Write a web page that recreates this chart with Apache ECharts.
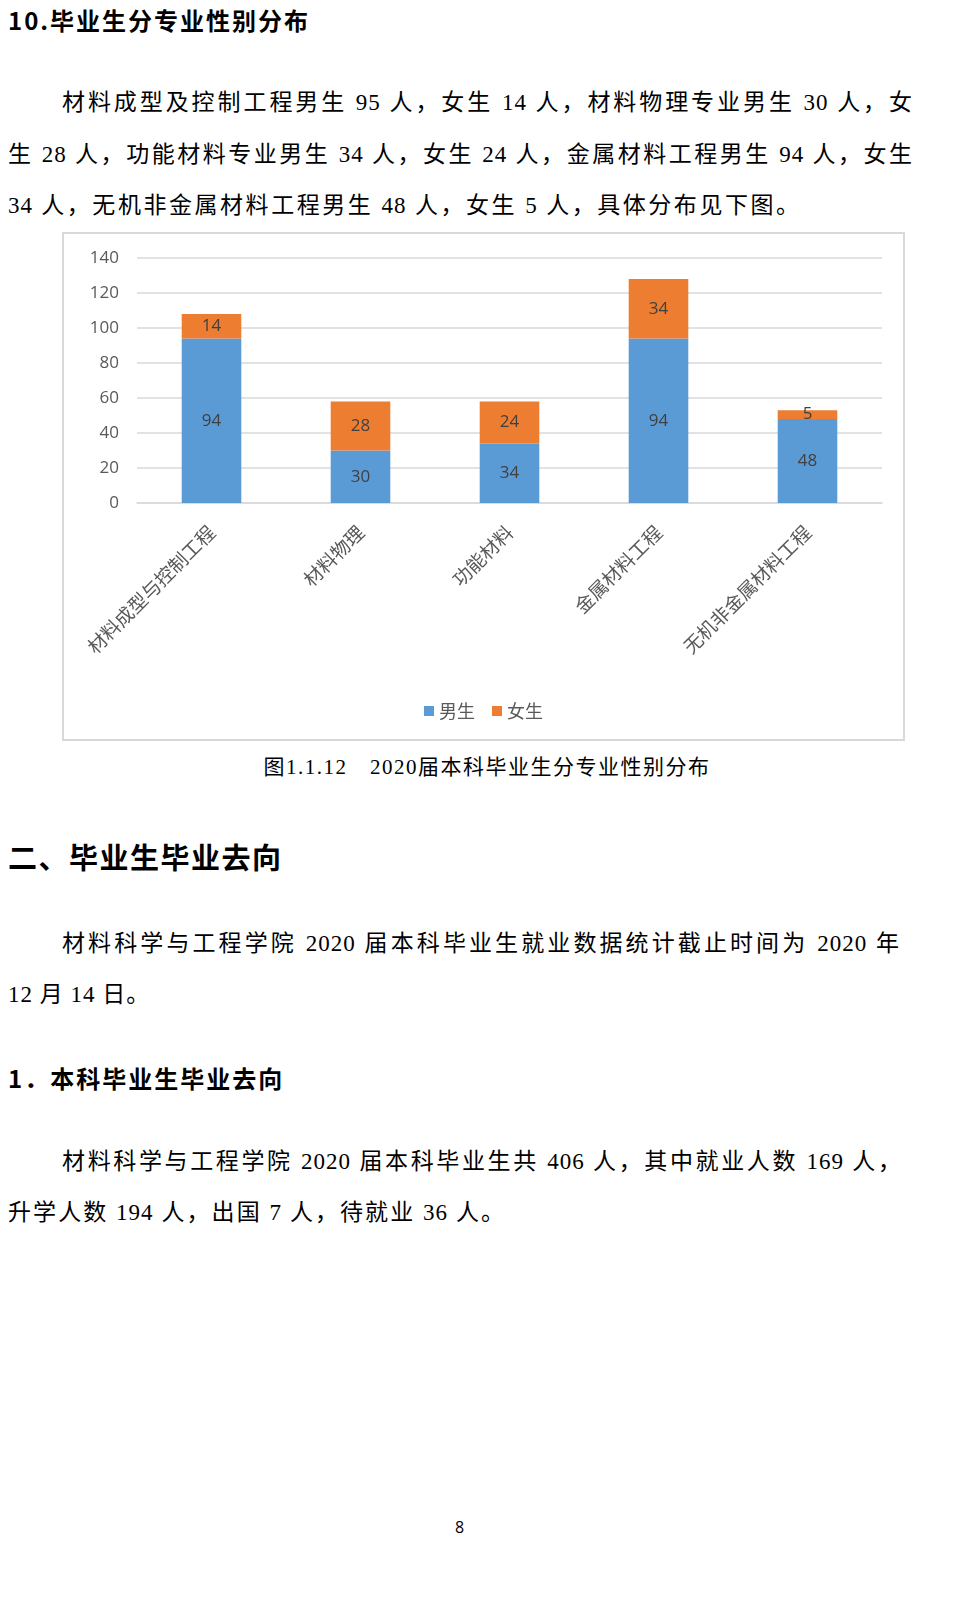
<!DOCTYPE html>
<html>
<head>
<meta charset="utf-8">
<script src="https://cdn.jsdelivr.net/npm/echarts@6/dist/echarts.min.js"></script>
<style>
  body { margin: 0; width: 953px; height: 1600px; background: #fff; position: relative;
         font-family: "Liberation Serif", "Noto Sans CJK SC", serif; color: #000; }
  .t { position: absolute; white-space: nowrap; }
  .h { font-weight: bold; font-family: "Noto Sans CJK SC", sans-serif; }
  .p { font-size: 23px; line-height: 30px; letter-spacing: 1px; }
  .j { text-align: justify; text-align-last: justify; }
  #box { position: absolute; left: 62px; top: 232px; width: 839px; height: 505px;
         border: 2px solid #d9d9d9; }
  #chart { width: 839px; height: 505px; }
</style>
</head>
<body>
<div class="t h" style="left:8px;top:5px;font-size:24px;line-height:30px;letter-spacing:2px;">10.毕业生分专业性别分布</div>

<div class="t p j" style="left:62px;top:88px;width:851px;">材料成型及控制工程男生 95 人，女生 14 人，材料物理专业男生 30 人，女</div>
<div class="t p j" style="left:8px;top:140px;width:905px;">生 28 人，功能材料专业男生 34 人，女生 24 人，金属材料工程男生 94 人，女生</div>
<div class="t p j" style="left:8px;top:191px;width:792px;">34 人，无机非金属材料工程男生 48 人，女生 5 人，具体分布见下图。</div>

<div id="box"><div id="chart"></div></div>

<div class="t" style="left:258px;width:458px;text-align:center;top:754px;font-size:21px;line-height:26px;letter-spacing:1.5px;">图1.1.12　2020届本科毕业生分专业性别分布</div>

<div class="t h" style="left:8px;top:838px;font-size:29px;line-height:36px;letter-spacing:1.5px;">二、毕业生毕业去向</div>

<div class="t p j" style="left:62px;top:929px;width:838px;">材料科学与工程学院 2020 届本科毕业生就业数据统计截止时间为 2020 年</div>
<div class="t p" style="left:8px;top:980px;">12 月 14 日。</div>

<div class="t h" style="left:8px;top:1063px;font-size:24px;line-height:30px;letter-spacing:2px;">1．本科毕业生毕业去向</div>

<div class="t p j" style="left:62px;top:1147px;width:840px;">材料科学与工程学院 2020 届本科毕业生共 406 人，其中就业人数 169 人，</div>
<div class="t p j" style="left:8px;top:1198px;width:497px;">升学人数 194 人，出国 7 人，待就业 36 人。</div>

<div class="t" style="left:455px;top:1516px;font-size:16px;line-height:22px;font-family:'Open Sans',sans-serif;">8</div>

<script>
// 专业分类
var majors = ['材料成型与控制工程', '材料物理', '功能材料', '金属材料工程', '无机非金属材料工程']
// 男生人数
var maleCount = [94, 30, 34, 94, 48]
// 女生人数
var femaleCount = [14, 28, 24, 34, 5]
var seriesNames = ['男生', '女生']
var yTicks = [0, 20, 40, 60, 80, 100, 120, 140]

var chart = echarts.init(document.getElementById('chart'))
var labelStyle = {
  show: true,
  position: 'inside',
  color: '#404040',
  fontSize: 17,
  fontFamily: 'Open Sans'
}
chart.setOption({
  animation: false,
  backgroundColor: '#ffffff',
  color: ['#5b9bd5', '#ed7d31'],
  grid: { left: 73, right: 21, top: 24, bottom: 236, containLabel: false },
  legend: {
    top: 463,
    left: 'center',
    itemWidth: 10,
    itemHeight: 10,
    itemGap: 17,
    icon: 'rect',
    textStyle: { color: '#595959', fontSize: 18, fontFamily: 'Noto Sans CJK SC' },
    data: seriesNames
  },
  xAxis: {
    type: 'category',
    data: majors,
    axisTick: { show: false },
    axisLine: { lineStyle: { color: '#d9d9d9', width: 1.5 } },
    axisLabel: {
      rotate: 45,
      margin: 26,
      color: '#595959',
      fontSize: 19,
      fontFamily: 'Noto Sans CJK SC'
    }
  },
  yAxis: {
    type: 'value',
    min: yTicks[0],
    max: yTicks[yTicks.length - 1],
    interval: 20,
    axisLine: { show: false },
    axisTick: { show: false },
    splitLine: { lineStyle: { color: '#d9d9d9', width: 1.5 } },
    axisLabel: { color: '#595959', fontSize: 17, margin: 18, fontFamily: 'Open Sans' }
  },
  series: [
    {
      name: seriesNames[0],
      type: 'bar',
      stack: 'total',
      barWidth: '40%',
      label: labelStyle,
      data: maleCount
    },
    {
      name: seriesNames[1],
      type: 'bar',
      stack: 'total',
      barWidth: '40%',
      label: labelStyle,
      data: femaleCount
    }
  ]
})
</script>
</body>
</html>
